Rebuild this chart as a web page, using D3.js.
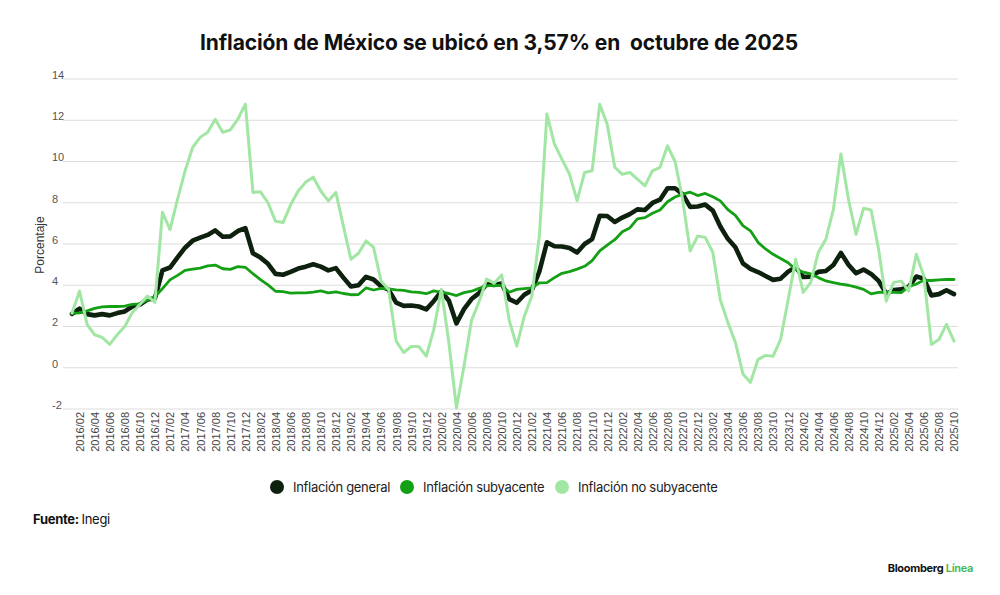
<!DOCTYPE html>
<html>
<head>
<meta charset="utf-8">
<script src="https://cdn.jsdelivr.net/npm/d3@7"></script>
<style>
  body { margin: 0; background: #fff; }
  svg { display: block; }
</style>
</head>
<body>
<svg id="chart" width="1000" height="595"></svg>
<script>
// periodos mensuales 2016/01 - 2025/10
const years = ["2016", "2017", "2018", "2019", "2020", "2021", "2022", "2023", "2024", "2025"];
const months = ["01", "02", "03", "04", "05", "06", "07", "08", "09", "10", "11", "12"];
const periods = years.flatMap(y => months.map(m => `${y}/${m}`)).slice(0, 118);
const tickLabels = periods.filter(p => +p.slice(5) % 2 === 0);
const yTicks = [-2, 0, 2, 4, 6, 8, 10, 12, 14];

const general = [
  2.61, 2.87, 2.60, 2.54, 2.60, 2.54, 2.65, 2.73, 2.97, 3.06, 3.31, 3.36,
  4.72, 4.86, 5.35, 5.82, 6.16, 6.31, 6.44, 6.66, 6.35, 6.37, 6.63, 6.77,
  5.55, 5.34, 5.04, 4.55, 4.51, 4.65, 4.81, 4.90, 5.02, 4.90, 4.72, 4.83,
  4.37, 3.94, 4.00, 4.41, 4.28, 3.95, 3.78, 3.16, 3.00, 3.02, 2.97, 2.83,
  3.24, 3.70, 3.25, 2.15, 2.84, 3.33, 3.62, 4.05, 4.01, 4.09, 3.33, 3.15,
  3.54, 3.76, 4.67, 6.08, 5.89, 5.88, 5.81, 5.59, 6.00, 6.24, 7.37, 7.36,
  7.07, 7.28, 7.45, 7.68, 7.65, 7.99, 8.15, 8.70, 8.70, 8.41, 7.80, 7.82,
  7.91, 7.62, 6.85, 6.25, 5.84, 5.06, 4.79, 4.64, 4.45, 4.26, 4.32, 4.66,
  4.88, 4.40, 4.42, 4.65, 4.69, 4.98, 5.57, 4.99, 4.58, 4.76, 4.55, 4.21,
  3.59, 3.77, 3.80, 3.93, 4.42, 4.32, 3.51, 3.57, 3.76, 3.57
];
const subyacente = [
  2.64, 2.66, 2.76, 2.88, 2.95, 2.97, 2.97, 2.99, 3.07, 3.10, 3.29, 3.44,
  3.84, 4.26, 4.48, 4.72, 4.78, 4.83, 4.94, 4.98, 4.80, 4.77, 4.90, 4.87,
  4.56, 4.27, 4.02, 3.71, 3.69, 3.62, 3.63, 3.63, 3.67, 3.73, 3.63, 3.68,
  3.60, 3.54, 3.55, 3.87, 3.77, 3.85, 3.82, 3.78, 3.75, 3.68, 3.65, 3.59,
  3.73, 3.66, 3.60, 3.50, 3.64, 3.71, 3.85, 3.97, 3.99, 3.98, 3.66, 3.80,
  3.84, 3.87, 4.12, 4.13, 4.37, 4.58, 4.66, 4.78, 4.92, 5.19, 5.67, 5.94,
  6.21, 6.59, 6.78, 7.22, 7.28, 7.49, 7.65, 8.05, 8.28, 8.42, 8.51, 8.35,
  8.45, 8.29, 8.09, 7.67, 7.39, 6.89, 6.64, 6.08, 5.76, 5.50, 5.30, 5.09,
  4.76, 4.64, 4.55, 4.37, 4.21, 4.13, 4.05, 4.00, 3.91, 3.80, 3.58, 3.65,
  3.66, 3.65, 3.64, 3.93, 4.06, 4.24, 4.23, 4.26, 4.28, 4.28
];
const noSubyacente = [
  2.65, 3.72, 2.10, 1.60, 1.47, 1.13, 1.60, 2.00, 2.68, 3.07, 3.48, 3.17,
  7.54, 6.70, 8.17, 9.55, 10.68, 11.17, 11.42, 12.05, 11.42, 11.53, 12.05, 12.78,
  8.50, 8.53, 8.00, 7.10, 7.04, 7.90, 8.57, 9.00, 9.24, 8.57, 8.09, 8.50,
  6.87, 5.26, 5.55, 6.15, 5.84, 4.20, 3.80, 1.29, 0.74, 1.03, 1.03, 0.56,
  1.86, 3.80, 1.20, -1.95, 0.08, 2.30, 3.20, 4.30, 4.10, 4.50, 2.30, 1.05,
  2.50, 3.48, 6.40, 12.30, 10.84, 10.10, 9.38, 8.10, 9.47, 9.55, 12.78, 11.80,
  9.72, 9.38, 9.47, 9.14, 8.82, 9.55, 9.72, 10.76, 10.00, 8.17, 5.66, 6.39,
  6.32, 5.60, 3.30, 2.20, 1.23, -0.30, -0.71, 0.40, 0.60, 0.56, 1.37, 3.30,
  5.26, 3.65, 4.14, 5.60, 6.23, 7.68, 10.36, 8.17, 6.47, 7.73, 7.65, 5.74,
  3.23, 4.14, 4.20, 3.72, 5.50, 4.45, 1.13, 1.37, 2.10, 1.29
];

const seriesNames = ["Inflación general", "Inflación subyacente", "Inflación no subyacente"];
const seriesValues = [general, subyacente, noSubyacente];
const colors = ["#0e210f", "#14a014", "#a2e6a4"];
const widths = [4.6, 2.8, 3];

const svg = d3.select("svg#chart");
svg.append("rect").attr("width", 1000).attr("height", 595).attr("fill", "#fff");

const x = d3.scalePoint().domain(periods).range([72, 954]);
const y = d3.scaleLinear().domain([-2, 14]).range([409, 79]);

// titulo
svg.append("text")
    .attr("x", 499).attr("y", 50)
    .attr("text-anchor", "middle")
    .attr("xml:space", "preserve")
    .style("font-family", "Inter, sans-serif")
    .style("font-weight", 700)
    .style("font-size", "21px")
    .style("letter-spacing", "-0.1px")
    .attr("fill", "#111")
    .text("Inflación de México se ubicó en 3,57% en  octubre de 2025");

// gridlines + eje Y
let grid = svg.append("g").attr("class", "y gridlines");
grid.selectAll("line").data(yTicks).join("line")
    .attr("x1", 63).attr("x2", 958)
    .attr("y1", d => y(d)).attr("y2", d => y(d))
    .attr("stroke", "#dcdcdc").attr("stroke-width", 1);
grid.selectAll("text").data(yTicks).join("text")
    .attr("x", 52).attr("y", d => y(d) - 4)
    .attr("dy", "0.35em")
    .style("font-family", "'Liberation Sans', Arial, sans-serif")
    .style("font-size", "11px")
    .attr("fill", "#555")
    .text(d => d);

svg.append("text")
    .attr("transform", "translate(44,245) rotate(-90)")
    .attr("text-anchor", "middle")
    .style("font-family", "'Liberation Sans', Arial, sans-serif")
    .style("font-size", "12px")
    .attr("fill", "#333")
    .text("Porcentaje");

// eje X
let bottomAxis = d3.axisBottom(x).tickValues(tickLabels).tickSize(0).tickPadding(0);
let xAxisG = svg.append("g")
    .attr("class", "x axis")
    .attr("transform", "translate(0,412)")
    .call(bottomAxis);
xAxisG.select(".domain").remove();
xAxisG.selectAll("text")
    .attr("transform", "rotate(-90)")
    .attr("text-anchor", "end")
    .attr("x", 0).attr("y", 0)
    .attr("dy", "0.35em")
    .style("font-family", "'Liberation Sans', Arial, sans-serif")
    .style("font-size", "11px")
    .attr("fill", "#444");

// lineas
const line = d3.line()
    .x((d, i) => x(periods[i]))
    .y(d => y(d));

let lines = svg.append("g").attr("id", "lines");
lines.selectAll("path").data(seriesValues).join("path")
    .attr("d", d => line(d))
    .attr("fill", "none")
    .attr("stroke", (d, i) => colors[i])
    .attr("stroke-width", (d, i) => widths[i])
    .attr("stroke-linejoin", "round")
    .attr("stroke-linecap", "round");

// leyenda
const legendX = [277, 407, 562];
let legend = svg.append("g").attr("class", "legend");
legend.selectAll("circle").data(seriesNames).join("circle")
    .attr("cx", (d, i) => legendX[i]).attr("cy", 487).attr("r", 7)
    .attr("fill", (d, i) => colors[i]);
legend.selectAll("text").data(seriesNames).join("text")
    .attr("x", (d, i) => legendX[i] + 16).attr("y", 487)
    .attr("dy", "0.35em")
    .style("font-family", "Inter, sans-serif")
    .style("font-size", "13px")
    .style("letter-spacing", "-0.3px")
    .attr("fill", "#222")
    .text(d => d);

// fuente
let source = svg.append("text")
    .attr("x", 33).attr("y", 524)
    .style("font-family", "Inter, sans-serif")
    .style("font-size", "13px")
    .style("letter-spacing", "-0.3px")
    .attr("fill", "#111");
source.append("tspan").style("font-weight", 700).text("Fuente: ");
source.append("tspan").text("Inegi");

// firma
let brand = svg.append("text")
    .attr("x", 973).attr("y", 572)
    .attr("text-anchor", "end")
    .style("font-family", "Inter, sans-serif")
    .style("font-size", "11px")
    .style("font-weight", 700)
    .style("letter-spacing", "-0.3px");
brand.append("tspan").attr("fill", "#111").text("Bloomberg ");
brand.append("tspan").attr("fill", "#3cb84a").style("font-weight", 600).text("Línea");
</script>
</body>
</html>
